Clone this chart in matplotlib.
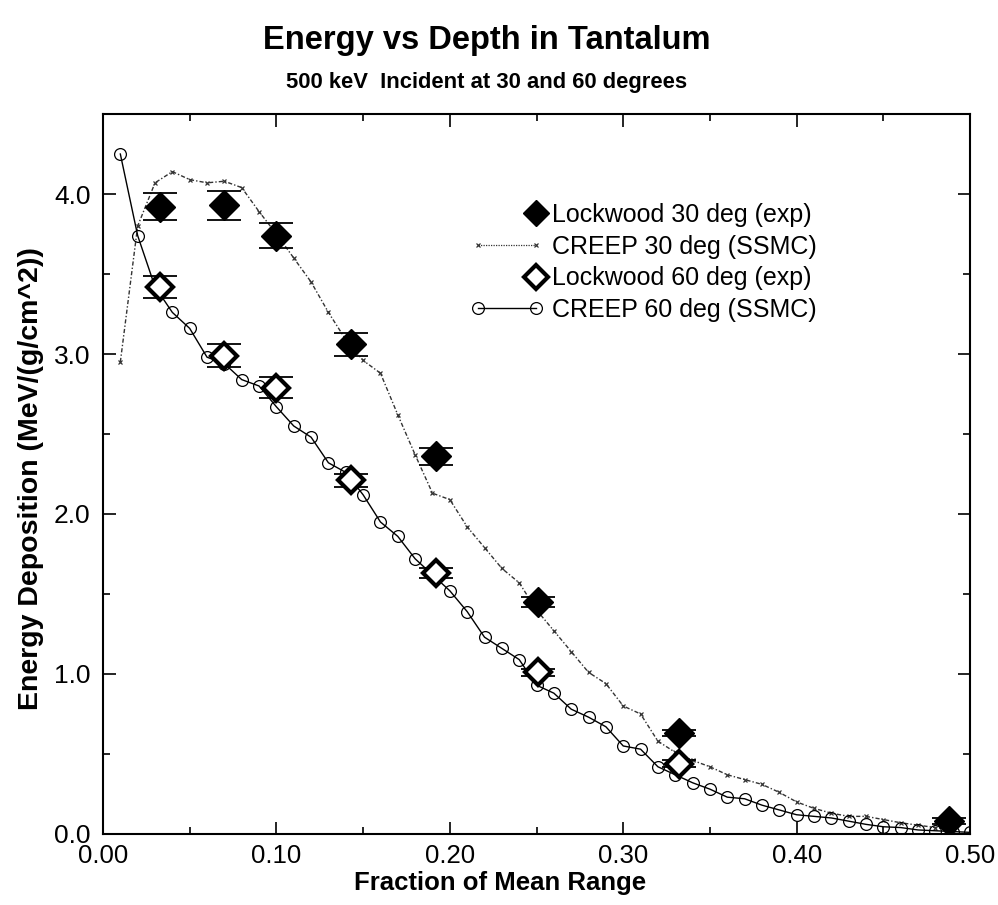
import matplotlib
matplotlib.use('Agg')
import matplotlib.pyplot as plt
from matplotlib.lines import Line2D
from matplotlib.legend_handler import HandlerLine2D
from matplotlib.ticker import MultipleLocator, FormatStrFormatter

plt.rcParams['font.family'] = ['Liberation Sans', 'DejaVu Sans']

# CREEP 60 deg (SSMC) - open circles, solid line
creep60_x = [0.01, 0.02, 0.03, 0.04, 0.05, 0.06, 0.07, 0.08, 0.09, 0.10,
             0.11, 0.12, 0.13, 0.14, 0.15, 0.16, 0.17, 0.18, 0.19, 0.20,
             0.21, 0.22, 0.23, 0.24, 0.25, 0.26, 0.27, 0.28, 0.29, 0.30,
             0.31, 0.32, 0.33, 0.34, 0.35, 0.36, 0.37, 0.38, 0.39, 0.40,
             0.41, 0.42, 0.43, 0.44, 0.45, 0.46, 0.47, 0.48, 0.49, 0.50]
creep60_y = [4.25, 3.74, 3.42, 3.26, 3.16, 2.98, 2.94, 2.84, 2.80, 2.67,
             2.55, 2.48, 2.32, 2.26, 2.12, 1.95, 1.86, 1.72, 1.62, 1.52,
             1.39, 1.23, 1.16, 1.09, 0.93, 0.88, 0.78, 0.73, 0.67, 0.55,
             0.53, 0.42, 0.37, 0.32, 0.28, 0.23, 0.22, 0.18, 0.15, 0.12,
             0.11, 0.10, 0.08, 0.06, 0.045, 0.04, 0.025, 0.02, 0.015, 0.01]

# CREEP 30 deg (SSMC) - small x markers, dotted line
creep30_x = [0.01, 0.02, 0.03, 0.04, 0.05, 0.06, 0.07, 0.08, 0.09, 0.10,
             0.11, 0.12, 0.13, 0.14, 0.15, 0.16, 0.17, 0.18, 0.19, 0.20,
             0.21, 0.22, 0.23, 0.24, 0.25, 0.26, 0.27, 0.28, 0.29, 0.30,
             0.31, 0.32, 0.33, 0.34, 0.35, 0.36, 0.37, 0.38, 0.39, 0.40,
             0.41, 0.42, 0.43, 0.44, 0.45, 0.46, 0.47, 0.48, 0.49]
creep30_y = [2.95, 3.80, 4.07, 4.14, 4.09, 4.07, 4.08, 4.04, 3.89, 3.75,
             3.60, 3.45, 3.26, 3.09, 2.96, 2.88, 2.62, 2.37, 2.13, 2.09,
             1.92, 1.79, 1.66, 1.57, 1.40, 1.27, 1.14, 1.01, 0.94, 0.80,
             0.75, 0.58, 0.51, 0.46, 0.42, 0.37, 0.34, 0.31, 0.26, 0.20,
             0.16, 0.13, 0.11, 0.11, 0.09, 0.07, 0.055, 0.04, 0.02]

# Lockwood experiments
lock30_x = [0.033, 0.070, 0.100, 0.143, 0.192, 0.251, 0.332, 0.488]
lock30_y = [3.92, 3.93, 3.74, 3.06, 2.36, 1.45, 0.63, 0.08]
lock30_err = [0.085, 0.09, 0.08, 0.07, 0.055, 0.03, 0.02, 0.02]

lock60_x = [0.033, 0.070, 0.100, 0.143, 0.192, 0.251, 0.332]
lock60_y = [3.42, 2.99, 2.79, 2.21, 1.63, 1.01, 0.44]
lock60_err = [0.07, 0.07, 0.065, 0.04, 0.03, 0.02, 0.02]

labels = ['Lockwood 30 deg (exp)', 'CREEP 30 deg (SSMC)',
          'Lockwood 60 deg (exp)', 'CREEP 60 deg (SSMC)']


class RightMarker(HandlerLine2D):
    # keep only the marker at the right end of the handle, next to the text
    def create_artists(self, legend, orig_handle, xdescent, ydescent,
                       width, height, fontsize, trans):
        arts = super().create_artists(legend, orig_handle, xdescent, ydescent,
                                      width, height, fontsize, trans)
        line = arts[0]
        line.set_markevery([len(line.get_xdata()) - 1])
        return arts


fig = plt.figure(figsize=(9.98, 9.05), dpi=100)
ax = fig.add_axes([0.1032, 0.0785, 0.8688, 0.7955])

ax.plot(creep30_x, creep30_y, color='0.2', lw=1.0, ls=(0, (3, 1.5, 1, 1.5)),
        marker='x', ms=3.5, mew=0.9, zorder=2)
ax.plot(creep60_x, creep60_y, color='black', lw=1.0, marker='o', ms=8.5,
        mfc='none', mec='black', mew=0.9, zorder=3)

ax.errorbar(lock60_x, lock60_y, yerr=lock60_err, fmt='none', ecolor='black',
            elinewidth=1.0, capsize=12, capthick=1.3, zorder=4)
ax.plot(lock60_x, lock60_y, ls='none', marker='D', ms=13.5, mfc='white',
        mec='black', mew=3, zorder=5)
ax.errorbar(lock30_x, lock30_y, yerr=lock30_err, fmt='none', ecolor='black',
            elinewidth=1.0, capsize=12, capthick=1.3, zorder=4)
ax.plot(lock30_x, lock30_y, ls='none', marker='D', ms=15, mfc='black',
        mec='black', mew=1, zorder=6)

ax.set_xlim(0, 0.5)
ax.set_ylim(0, 4.5)
ax.xaxis.set_major_locator(MultipleLocator(0.1))
ax.xaxis.set_minor_locator(MultipleLocator(0.05))
ax.yaxis.set_major_locator(MultipleLocator(1.0))
ax.yaxis.set_minor_locator(MultipleLocator(0.5))
ax.xaxis.set_major_formatter(FormatStrFormatter('%.2f'))
ax.yaxis.set_major_formatter(FormatStrFormatter('%.1f'))
ax.tick_params(which='both', direction='in', top=True, right=True, width=1.2)
ax.tick_params(which='major', length=9)
ax.tick_params(which='minor', length=5)
ax.tick_params(axis='x', which='major', labelsize=18.5, pad=7)
ax.tick_params(axis='y', which='major', labelsize=19, pad=9)
for s in ax.spines.values():
    s.set_linewidth(1.5)

ax.set_xlabel('Fraction of Mean Range', fontsize=18.5, fontweight='bold')
ax.xaxis.set_label_coords(0.458, -0.052)
ax.set_ylabel('Energy Deposition (MeV/(g/cm^2))', fontsize=20.5, fontweight='bold')
ax.yaxis.set_label_coords(-0.068, 0.494)

fig.text(0.488, 0.955, 'Energy vs Depth in Tantalum', ha='center', va='center',
         fontsize=23.5, fontweight='bold')
fig.text(0.488, 0.909, '500 keV  Incident at 30 and 60 degrees', ha='center',
         va='center', fontsize=15.8, fontweight='bold')

handles = [
    Line2D([], [], ls='none', marker='D', ms=13, mfc='black', mec='black'),
    Line2D([], [], color='0.2', lw=0.9, ls=(0, (1, 1)), marker='x', ms=3.5, mew=0.9),
    Line2D([], [], ls='none', marker='D', ms=12, mfc='white', mec='black', mew=3),
    Line2D([], [], color='black', lw=1.0, marker='o', ms=8.5, mfc='none', mec='black', mew=0.9),
]
ax.legend(handles, labels, loc='upper left', bbox_to_anchor=(470 / 998, 1 - 203 / 905),
          bbox_transform=fig.transFigure, frameon=False, fontsize=18, numpoints=2,
          handlelength=2.94, handletextpad=0.34, labelspacing=0.31, borderpad=0,
          borderaxespad=0,
          handler_map={handles[0]: RightMarker(), handles[2]: RightMarker()})

plt.savefig('out.png', dpi=100)
